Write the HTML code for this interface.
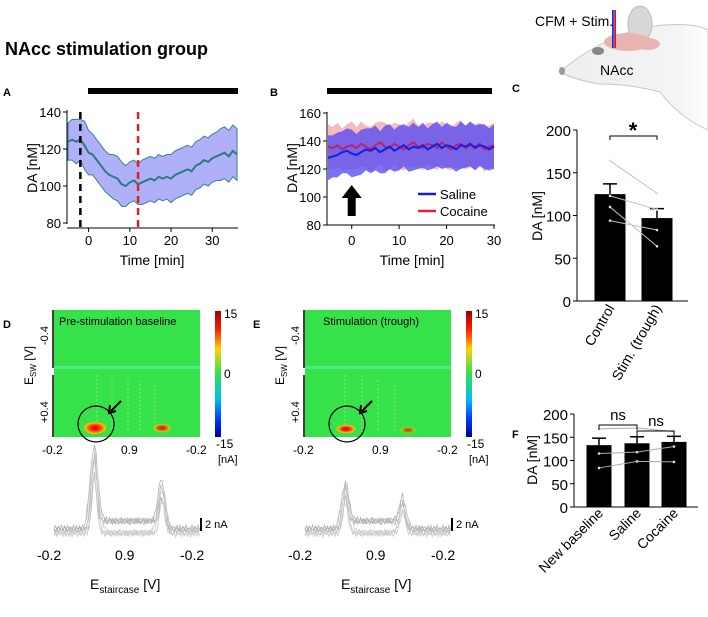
<!DOCTYPE html>
<html><head><meta charset="utf-8">
<style>
body{margin:0;background:#fff;width:708px;height:612px;overflow:hidden;font-family:"Liberation Sans",sans-serif}
svg text{font-family:"Liberation Sans",sans-serif}
</style></head>
<body>
<svg id="fig" width="708" height="612" viewBox="0 0 708 612" xmlns="http://www.w3.org/2000/svg">
<defs>
<radialGradient id="blob"><stop offset="0" stop-color="#c00000"/><stop offset="0.4" stop-color="#ff3000"/><stop offset="0.75" stop-color="#ffc000"/><stop offset="1" stop-color="#40e040" stop-opacity="0"/></radialGradient>
<linearGradient id="cbar" x1="0" y1="0" x2="0" y2="1"><stop offset="0" stop-color="#a00000"/><stop offset="0.15" stop-color="#ff2000"/><stop offset="0.3" stop-color="#ffd000"/><stop offset="0.5" stop-color="#30e050"/><stop offset="0.7" stop-color="#00c0f0"/><stop offset="0.85" stop-color="#0040ff"/><stop offset="1" stop-color="#000090"/></linearGradient>
<linearGradient id="probe" x1="0" x2="1"><stop offset="0" stop-color="#2030d0"/><stop offset="0.4" stop-color="#2030d0"/><stop offset="0.5" stop-color="#fff"/><stop offset="0.6" stop-color="#e01020"/><stop offset="1" stop-color="#e01020"/></linearGradient>
<linearGradient id="headfade" x1="0" x2="1"><stop offset="0" stop-color="#eeeeee"/><stop offset="0.8" stop-color="#f4f4f4"/><stop offset="1" stop-color="#fff"/></linearGradient>
</defs>

<text x="5" y="55" font-size="18" font-weight="bold">NAcc stimulation group</text>

<g>
<path d="M560,72 Q590,45 640,28 Q690,20 708,30 L708,130 Q680,118 660,92 Q630,84 600,84 Q575,80 560,72 Z" fill="url(#headfade)" stroke="#c8c8c8"/>
<ellipse cx="640" cy="24" rx="12" ry="18" fill="#d8d8d8" stroke="#bbb"/>
<ellipse cx="628" cy="42" rx="24" ry="9" fill="#e8b4b0"/>
<ellipse cx="648" cy="44" rx="12" ry="6" fill="#e8b4b0"/>
<ellipse cx="598" cy="51" rx="6" ry="4" fill="#888"/>
<ellipse cx="562" cy="71" rx="3" ry="4" fill="#999"/>
<rect x="612" y="10" width="4" height="38" fill="url(#probe)"/>
<text x="535" y="26" font-size="14">CFM + Stim.</text>
<text x="600" y="75" font-size="14">NAcc</text>
</g>

<g id="panelA"></g>
<g id="panelB"></g>
<g id="panelC"></g>
<g id="panelF"></g>

<g>
<text x="3" y="328" font-size="11" font-weight="bold">D</text>
<rect x="54" y="310" width="146" height="127" fill="#36e24a"/>
<rect x="54" y="366" width="146" height="3" fill="#60e8a0" opacity="0.7"/>
<g stroke="#b0f070" stroke-width="1" opacity="0.7" stroke-dasharray="2 2">
<line x1="97" y1="375" x2="97" y2="432"/><line x1="112" y1="375" x2="112" y2="432"/><line x1="128" y1="380" x2="128" y2="432"/><line x1="140" y1="380" x2="140" y2="432"/><line x1="155" y1="385" x2="155" y2="432"/></g>
<ellipse cx="95" cy="428" rx="13" ry="7" fill="url(#blob)"/>
<ellipse cx="162" cy="428" rx="10" ry="5" fill="url(#blob)" opacity="0.8"/>
<circle cx="96" cy="424" r="18" fill="none" stroke="#000" stroke-width="1.2"/>
<path d="M121,401 L111,411 M110,405 L109,413 L116,411" stroke="#000" stroke-width="2" fill="none"/>
<text x="59" y="325" font-size="11">Pre-stimulation baseline</text>
<line x1="53" y1="310" x2="53" y2="368" stroke="#000" stroke-width="1.5"/><line x1="53" y1="375" x2="53" y2="437" stroke="#000" stroke-width="1.5"/>
<text transform="translate(48,345) rotate(-90)" font-size="11">-0.4</text>
<text transform="translate(48,423) rotate(-90)" font-size="11">+0.4</text>
<text transform="translate(33,385) rotate(-90)" font-size="12">E<tspan font-size="8" dy="3">SW</tspan><tspan dy="-3"> [V]</tspan></text>
<text x="42" y="454" font-size="12">-0.2</text><text x="121" y="454" font-size="12">0.9</text><text x="186" y="454" font-size="12">-0.2</text>
<rect x="215" y="311" width="6" height="126" fill="url(#cbar)"/>
<text x="224" y="318" font-size="12">15</text><text x="224" y="378" font-size="12">0</text><text x="216" y="448" font-size="12">-15</text><text x="218" y="463" font-size="11">[nA]</text>
<g id="voltD"></g>
<line x1="201" y1="518" x2="201" y2="531" stroke="#000" stroke-width="2"/><text x="205" y="528" font-size="11">2 nA</text>
<text x="37" y="560" font-size="14">-0.2</text><text x="115" y="560" font-size="14">0.9</text><text x="180" y="560" font-size="14">-0.2</text>
<text x="90" y="589" font-size="14">E<tspan font-size="10" dy="4">staircase</tspan><tspan dy="-4"> [V]</tspan></text>
</g>
<g>
<text x="253" y="328" font-size="11" font-weight="bold">E</text>
<rect x="305" y="310" width="146" height="127" fill="#36e24a"/>
<rect x="305" y="366" width="146" height="3" fill="#60e8a0" opacity="0.7"/>
<g stroke="#b0f070" stroke-width="1" opacity="0.7" stroke-dasharray="2 2">
<line x1="345" y1="375" x2="345" y2="432"/><line x1="362" y1="375" x2="362" y2="432"/><line x1="378" y1="380" x2="378" y2="432"/><line x1="395" y1="385" x2="395" y2="432"/></g>
<ellipse cx="346" cy="429" rx="11" ry="5" fill="url(#blob)"/>
<ellipse cx="408" cy="430" rx="9" ry="4" fill="url(#blob)" opacity="0.6"/>
<circle cx="347" cy="424" r="18" fill="none" stroke="#000" stroke-width="1.2"/>
<path d="M372,401 L362,411 M361,405 L360,413 L367,411" stroke="#000" stroke-width="2" fill="none"/>
<text x="323" y="325" font-size="11">Stimulation (trough)</text>
<line x1="304" y1="310" x2="304" y2="368" stroke="#000" stroke-width="1.5"/><line x1="304" y1="375" x2="304" y2="437" stroke="#000" stroke-width="1.5"/>
<text transform="translate(299,345) rotate(-90)" font-size="11">-0.4</text>
<text transform="translate(299,423) rotate(-90)" font-size="11">+0.4</text>
<text transform="translate(284,385) rotate(-90)" font-size="12">E<tspan font-size="8" dy="3">SW</tspan><tspan dy="-3"> [V]</tspan></text>
<text x="293" y="454" font-size="12">-0.2</text><text x="372" y="454" font-size="12">0.9</text><text x="437" y="454" font-size="12">-0.2</text>
<rect x="466" y="311" width="6" height="126" fill="url(#cbar)"/>
<text x="475" y="318" font-size="12">15</text><text x="475" y="378" font-size="12">0</text><text x="467" y="448" font-size="12">-15</text><text x="469" y="463" font-size="11">[nA]</text>
<g id="voltE"></g>
<line x1="452" y1="518" x2="452" y2="531" stroke="#000" stroke-width="2"/><text x="456" y="528" font-size="11">2 nA</text>
<text x="288" y="560" font-size="14">-0.2</text><text x="366" y="560" font-size="14">0.9</text><text x="431" y="560" font-size="14">-0.2</text>
<text x="341" y="589" font-size="14">E<tspan font-size="10" dy="4">staircase</tspan><tspan dy="-4"> [V]</tspan></text>
</g>
</svg>
<script>
const NS='http://www.w3.org/2000/svg';
// Panel A data
const aTime=[-5,-4,-3,-2,-1,0,1,2,3,4,5,6,7,8,9,10,11,12,13,14,15,16,17,18,19,20,21,22,23,24,25,26,27,28,29,30,31,32,33,34,35,36];
const aMean=[124,125,124,125,122,118,117,114,111,108,106,105,104,101,100,102,103,101,102,103,104,103,105,104,105,104,106,107,108,109,108,111,112,114,113,115,116,117,118,116,119,117];
const aSem=[10,11,12,11,13,12,11,11,11,11,11,12,12,12,11,11,11,11,12,12,12,12,12,12,12,13,13,13,13,13,13,13,13,13,13,13,13,14,14,14,14,14];
const aYTicks=[80,100,120,140];
const aXTicks=[0,10,20,30];
// Panel B data
const bTime=[-5,-4,-3,-2,-1,0,1,2,3,4,5,6,7,8,9,10,11,12,13,14,15,16,17,18,19,20,21,22,23,24,25,26,27,28,29,30];
const bSaline=[128,129,130,132,133,131,130,132,134,133,135,132,134,136,133,135,137,134,136,135,137,134,136,138,135,137,136,134,137,136,138,135,137,136,134,136];
const bCocaine=[136,135,137,134,136,137,135,138,136,134,137,139,136,135,138,136,134,137,139,136,135,138,137,135,139,136,134,137,138,135,137,136,138,134,136,137];
const bSem=[16,15,16,15,16,17,15,16,15,16,16,15,17,16,15,16,15,16,17,15,16,15,16,16,15,16,15,16,17,15,16,16,15,16,15,16];
const bYTicks=[80,100,120,140,160];
const bXTicks=[0,10,20,30];
// Panel C data
const cCats=['Control','Stim. (trough)'];
const cMeans=[125,97];
const cErr=[12,11];
const cPairs=[[164,126],[123,107],[110,64],[94,83]];
const cYTicks=[0,50,100,150,200];
// Panel F data
const fCats=['New baseline','Saline','Cocaine'];
const fMeans=[133,137,140];
const fErr=[15,14,12];
const fPairs=[[168,170,162],[115,118,130],[84,98,97]];
const fYTicks=[0,50,100,150,200];

function el(parent,tag,attrs,text){const e=document.createElementNS(NS,tag);for(const k in attrs)e.setAttribute(k,attrs[k]);if(text!==undefined)e.textContent=text;parent.appendChild(e);return e;}
function lin(d0,d1,r0,r1){return v=>r0+(v-d0)*(r1-r0)/(d1-d0);}

// ---- Panel A ----
(function(){
const g=document.getElementById('panelA');
const x=lin(-5,36,68,237), y=lin(80,140,223,112);
el(g,'text',{x:3,y:96,'font-size':11,'font-weight':'bold'},'A');
const bar=el(g,'rect',{x:88,y:88,width:150,height:6,fill:'#000'});


let up=aTime.map((t,i)=>x(t)+','+y(aMean[i]+aSem[i])), lo=aTime.map((t,i)=>x(t)+','+y(aMean[i]-aSem[i])).reverse();
const band=el(g,'polygon',{points:up.concat(lo).join(' '),fill:'#b0b0f8',stroke:'#3a7f9a','stroke-width':1});


const ln=el(g,'polyline',{points:aTime.map((t,i)=>x(t)+','+y(aMean[i])).join(' '),fill:'none',stroke:'#2a7a8a','stroke-width':2});


el(g,'line',{x1:x(-2),y1:112,x2:x(-2),y2:228,stroke:'#000','stroke-width':2.5,'stroke-dasharray':'7 5'});
el(g,'line',{x1:x(12),y1:112,x2:x(12),y2:228,stroke:'#e02020','stroke-width':2.5,'stroke-dasharray':'7 5'});
el(g,'line',{x1:67,y1:110,x2:67,y2:224,stroke:'#000'});
el(g,'line',{x1:67,y1:228,x2:238,y2:228,stroke:'#000'});
aYTicks.forEach(v=>{el(g,'line',{x1:63,y1:y(v),x2:67,y2:y(v),stroke:'#000'});el(g,'text',{x:61,y:y(v)+5,'font-size':13,'text-anchor':'end'},v);});
aXTicks.forEach(v=>{el(g,'line',{x1:x(v),y1:228,x2:x(v),y2:232,stroke:'#000'});el(g,'text',{x:x(v),y:245,'font-size':13,'text-anchor':'middle'},v);});
el(g,'text',{x:152,y:265,'font-size':14,'text-anchor':'middle'},'Time [min]');
el(g,'text',{transform:'translate(37,168) rotate(-90)','font-size':14,'text-anchor':'middle'},'DA [nM]');
})();

// ---- Panel B ----
(function(){
const g=document.getElementById('panelB');
const x=lin(-5,30,328,494), y=lin(80,160,225,113);
el(g,'text',{x:270,y:96,'font-size':11,'font-weight':'bold'},'B');
el(g,'rect',{x:327,y:88,width:165,height:6,fill:'#000'});
const band=(arr,col,op)=>{let up=bTime.map((t,i)=>x(t)+','+y(arr[i]+bSem[i])),lo=bTime.map((t,i)=>x(t)+','+y(arr[i]-bSem[i])).reverse();return el(g,'polygon',{points:up.concat(lo).join(' '),fill:col,opacity:op});};
const cb=band(bCocaine,'#f4a8b0',0.8);


const sb=band(bSaline,'#5a4ef0',0.8);


const cl=el(g,'polyline',{points:bTime.map((t,i)=>x(t)+','+y(bCocaine[i])).join(' '),fill:'none',stroke:'#c0206a','stroke-width':2});


const sl=el(g,'polyline',{points:bTime.map((t,i)=>x(t)+','+y(bSaline[i])).join(' '),fill:'none',stroke:'#1020e0','stroke-width':2});


el(g,'line',{x1:327,y1:112,x2:327,y2:225,stroke:'#000'});
el(g,'line',{x1:327,y1:225,x2:495,y2:225,stroke:'#000'});
bYTicks.forEach(v=>{el(g,'line',{x1:323,y1:y(v),x2:327,y2:y(v),stroke:'#000'});el(g,'text',{x:321,y:y(v)+5,'font-size':13,'text-anchor':'end'},v);});
bXTicks.forEach(v=>{el(g,'line',{x1:x(v),y1:225,x2:x(v),y2:229,stroke:'#000'});el(g,'text',{x:x(v),y:245,'font-size':13,'text-anchor':'middle'},v);});
el(g,'path',{d:`M${x(0)-4},216 L${x(0)-4},198 L${x(0)-10},198 L${x(0)},185 L${x(0)+10},198 L${x(0)+4},198 L${x(0)+4},216 Z`,fill:'#000'});
el(g,'text',{x:412,y:265,'font-size':14,'text-anchor':'middle'},'Time [min]');
el(g,'text',{transform:'translate(297,168) rotate(-90)','font-size':14,'text-anchor':'middle'},'DA [nM]');
el(g,'line',{x1:418,y1:194,x2:436,y2:194,stroke:'#1020e0','stroke-width':2.5});
el(g,'text',{x:440,y:199,'font-size':13},'Saline');
el(g,'line',{x1:418,y1:211,x2:436,y2:211,stroke:'#e02040','stroke-width':2.5});
el(g,'text',{x:440,y:216,'font-size':13},'Cocaine');
})();

// ---- Panel C ----
(function(){
const g=document.getElementById('panelC');
const y=lin(0,200,301,130), cx=[610,657], bw=31;
el(g,'text',{x:512,y:92,'font-size':11,'font-weight':'bold'},'C');
el(g,'line',{x1:577,y1:130,x2:577,y2:301,stroke:'#000'});
el(g,'line',{x1:577,y1:301,x2:688,y2:301,stroke:'#000'});
cYTicks.forEach(v=>{el(g,'line',{x1:573,y1:y(v),x2:577,y2:y(v),stroke:'#000'});el(g,'text',{x:571,y:y(v)+6,'font-size':15,'text-anchor':'end'},v);});
cMeans.forEach((m,i)=>{
 el(g,'line',{x1:cx[i],y1:y(m),x2:cx[i],y2:y(m+cErr[i]),stroke:'#000','stroke-width':1.5});
 el(g,'line',{x1:cx[i]-7,y1:y(m+cErr[i]),x2:cx[i]+7,y2:y(m+cErr[i]),stroke:'#000','stroke-width':1.5});
 const b=el(g,'rect',{x:cx[i]-bw/2,y:y(m),width:bw,height:y(0)-y(m),fill:'#000'});
 
 
 el(g,'text',{transform:`translate(${cx[i]+5},${308}) rotate(-60)`,'font-size':14,'text-anchor':'end'},cCats[i]);
});
cPairs.forEach(p=>{el(g,'line',{x1:cx[0],y1:y(p[0]),x2:cx[1],y2:y(p[1]),stroke:'#c0c0c0'});p.forEach((v,i)=>el(g,'circle',{cx:cx[i],cy:y(v),r:1.3,fill:'#ddd'}));});
el(g,'path',{d:'M610,140 L610,136 L657,136 L657,140',stroke:'#000',fill:'none'});
el(g,'text',{x:633,y:138,'font-size':22,'font-weight':'bold','text-anchor':'middle'},'*');
el(g,'text',{transform:'translate(542,216) rotate(-90)','font-size':14,'text-anchor':'middle'},'DA [nM]');
})();

// ---- Panel F ----
(function(){
const g=document.getElementById('panelF');
const y=lin(0,200,507,414), cx=[599,637,674], bw=25;
el(g,'text',{x:512,y:438,'font-size':11,'font-weight':'bold'},'F');
el(g,'line',{x1:574,y1:414,x2:574,y2:507,stroke:'#000'});
el(g,'line',{x1:574,y1:507,x2:698,y2:507,stroke:'#000'});
fYTicks.forEach(v=>{el(g,'line',{x1:570,y1:y(v),x2:574,y2:y(v),stroke:'#000'});el(g,'text',{x:568,y:y(v)+6,'font-size':15,'text-anchor':'end'},v);});
fMeans.forEach((m,i)=>{
 el(g,'line',{x1:cx[i],y1:y(m),x2:cx[i],y2:y(m+fErr[i]),stroke:'#000','stroke-width':1.5});
 el(g,'line',{x1:cx[i]-7,y1:y(m+fErr[i]),x2:cx[i]+7,y2:y(m+fErr[i]),stroke:'#000','stroke-width':1.5});
 const b=el(g,'rect',{x:cx[i]-bw/2,y:y(m),width:bw,height:y(0)-y(m),fill:'#000'});
 
 
 el(g,'text',{transform:`translate(${cx[i]+5},${514}) rotate(-45)`,'font-size':14,'text-anchor':'end'},fCats[i]);
});
fPairs.forEach(p=>{el(g,'polyline',{points:p.map((v,i)=>cx[i]+','+y(v)).join(' '),stroke:'#aaa',fill:'none'});p.forEach((v,i)=>el(g,'circle',{cx:cx[i],cy:y(v),r:1.3,fill:'#ddd'}));});
el(g,'path',{d:'M599,430 L599,425 L637,425 L637,430',stroke:'#000',fill:'none'});
el(g,'text',{x:618,y:420,'font-size':15,'text-anchor':'middle'},'ns');
el(g,'path',{d:'M637,436 L637,431 L674,431 L674,436',stroke:'#000',fill:'none'});
el(g,'text',{x:656,y:426,'font-size':15,'text-anchor':'middle'},'ns');
el(g,'text',{transform:'translate(537,460) rotate(-90)','font-size':14,'text-anchor':'middle'},'DA [nM]');
})();

// ---- noisy voltammogram traces (decorative) ----
function volt(id,x0,p1,h1,p2,h2){
 const g=document.getElementById(id);
 for(let k=0;k<6;k++){
  let pts=[];
  for(let i=0;i<=146;i+=1.5){
   const xx=x0+i;
   let yy=530+(k%2?3:-1)+Math.sin(i*1.7+k*2.3)*2.5+Math.sin(i*0.37+k)*1.5;
   yy-=h1*Math.exp(-Math.pow((i-p1)/(3+k*0.6),2))*(0.6+0.08*k);
   yy-=h2*Math.exp(-Math.pow((i-p2)/(3+k*0.5),2))*(0.6+0.08*k);
   if(i>p1 && i<p2 && k%2===0) yy-=8;
   pts.push(xx.toFixed(1)+','+yy.toFixed(1));
  }
  el(g,'polyline',{points:pts.join(' '),fill:'none',stroke:k%2?'#c8c8c8':'#b0b0b0','stroke-width':0.8});
 }
}
volt('voltD',54,40,85,108,50);
volt('voltE',305,40,45,98,30);
</script>
</body></html>
